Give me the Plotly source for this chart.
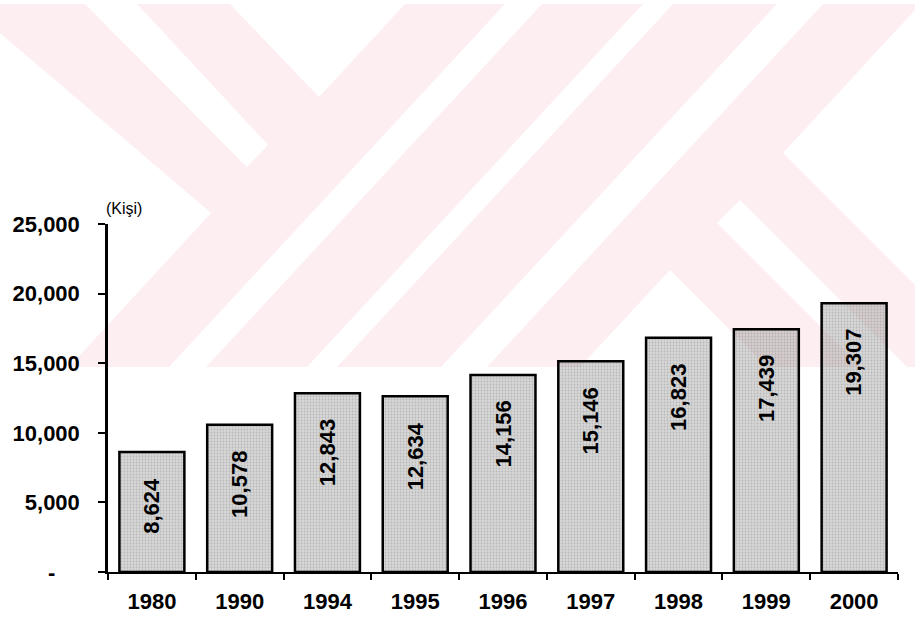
import plotly.graph_objects as go

years = ["1980", "1990", "1994", "1995", "1996", "1997", "1998", "1999", "2000"]
values = [8624, 10578, 12843, 12634, 14156, 15146, 16823, 17439, 19307]
y_ticks = [0, 5000, 10000, 15000, 20000, 25000]
y_ticktext = ["-\u00a0\u00a0\u00a0\u00a0", "5,000", "10,000", "15,000", "20,000", "25,000"]
unit_label = "(Kişi)"

W, H = 915, 623
L, R, T, B = 108, 17, 224, 51
PW, PH = W - L - R, H - T - B
FONT = "Liberation Sans, Arial, sans-serif"

fig = go.Figure()
fig.add_trace(go.Bar(
    x=years, y=values, width=0.74,
    marker=dict(color="rgba(150,150,150,0.38)",
                line=dict(color="black", width=2.5),
                pattern=dict(shape=".", fgcolor="rgba(60,60,60,0.4)", size=3, solidity=0.3, fillmode="overlay")),
    hoverinfo="skip", showlegend=False,
))

# value labels inside bars (rotated); x given as category index
for i, v in enumerate(values):
    fig.add_annotation(x=i, y=v, xref="x", yref="y", text=f"{v:,}",
                       textangle=-90, showarrow=False, yanchor="top", xanchor="center",
                       yshift=-24, font=dict(family=FONT, size=22, color="black", weight="bold"))

fig.add_annotation(x=(104 - L) / PW, y=(572 - 198) / PH, xref="paper", yref="paper",
                   xanchor="left", yanchor="top",
                   text=unit_label, showarrow=False, font=dict(family=FONT, size=16, color="black"))

# background watermark (decoration), pixel polygons converted to paper coordinates
def to_paper(pts):
    return [((X - L) / PW, (T + PH - Y) / PH) for X, Y in pts]

def path(pts):
    p = to_paper(pts)
    return "M " + " L ".join(f"{a:.5f},{b:.5f}" for a, b in p) + " Z"

pink = "#fdeef1"
wm_pink = [(0, 4), (915, 4), (915, 367), (0, 367)]
wm_white = [
    [(0, 33), (211, 213), (69, 367), (0, 367)],
    [(85, 4), (137, 4), (268, 145), (247, 167)],
    [(230, 4), (405, 4), (319, 97)],
    [(505, 4), (542, 4), (206, 367), (169, 367)],
    [(643, 4), (673, 4), (337, 367), (307, 367)],
    [(777, 4), (823, 4), (487, 367), (441, 367)],
    [(783, 153), (915, 10), (915, 285)],
    [(740, 200), (907, 367), (861, 367), (717, 223)],
    [(670, 270), (767, 367), (580, 367)],
]
fig.add_shape(type="path", path=path(wm_pink), xref="paper", yref="paper",
              fillcolor=pink, line=dict(width=0), layer="below")
for poly in wm_white:
    fig.add_shape(type="path", path=path(poly), xref="paper", yref="paper",
                  fillcolor="white", line=dict(width=0), layer="below")

fig.update_layout(
    width=W, height=H,
    margin=dict(l=L, r=R, t=T, b=B, pad=0),
    paper_bgcolor="white", plot_bgcolor="rgba(0,0,0,0)",
    bargap=0.26,
    xaxis=dict(type="category", range=[-0.5, len(years) - 0.5], automargin=False,
               showline=True, linecolor="black", linewidth=2, tickangle=0,
               ticks="outside", tickson="boundaries", ticklen=6, tickwidth=1.5, tickcolor="black",
               showgrid=False, ticklabelstandoff=9,
               tickfont=dict(family=FONT, size=22, color="black", weight="bold")),
    yaxis=dict(range=[0, 25000], tickvals=y_ticks, ticktext=y_ticktext, automargin=False,
               showline=True, linecolor="black", linewidth=2.5,
               ticks="outside", ticklen=7, tickwidth=1.5, tickcolor="black",
               showgrid=False, zeroline=False, ticklabelstandoff=14,
               tickfont=dict(family=FONT, size=22, color="black", weight="bold")),
)

fig.write_html("out.html")
